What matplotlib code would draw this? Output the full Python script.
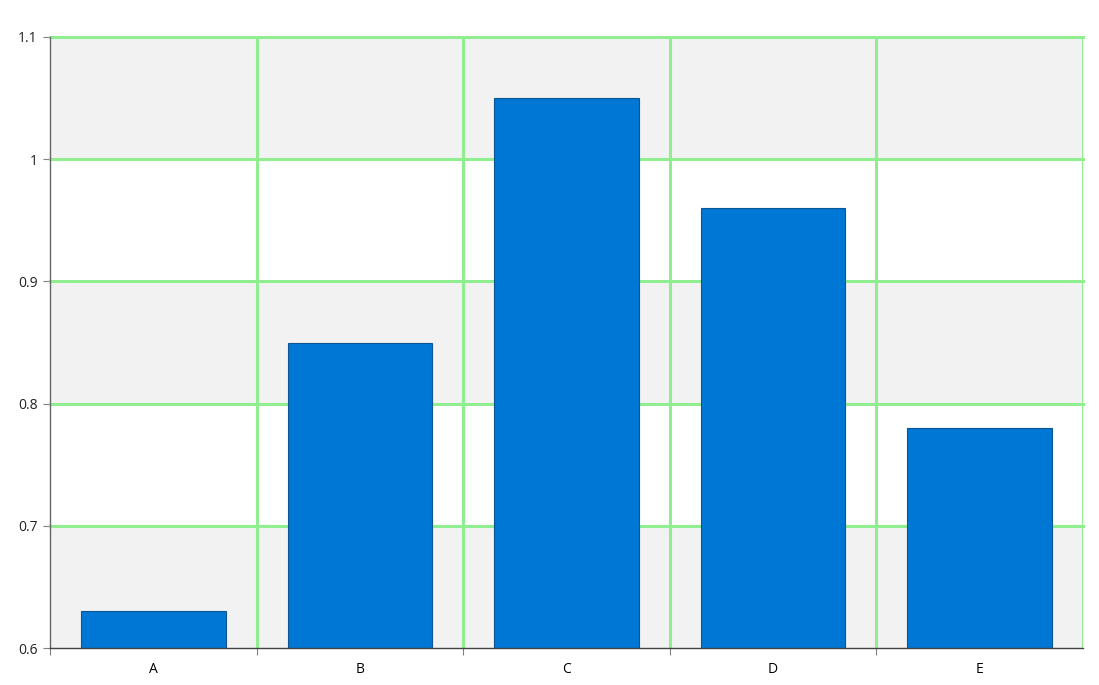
import matplotlib
matplotlib.use('Agg')
import matplotlib.pyplot as plt
import numpy as np

categories = ['A', 'B', 'C', 'D', 'E']
values = [0.63, 0.85, 1.05, 0.96, 0.78]
y_ticks = [0.6, 0.7, 0.8, 0.9, 1.0, 1.1]
y_tick_labels = ['0.6', '0.7', '0.8', '0.9', '1', '1.1']

plt.rcParams['font.family'] = ['Open Sans', 'DejaVu Sans']

fig = plt.figure(figsize=(10.99, 6.85), dpi=100)
ax = fig.add_axes([50 / 1099, (685 - 648) / 685, 1033 / 1099, 611 / 685])

x = np.arange(len(categories))

# alternating bands
for lo, hi in zip(y_ticks[:-1], y_ticks[1:]):
    if round(lo * 10) % 2 == 0:
        ax.axhspan(lo, hi, color='#f2f2f2', zorder=0, lw=0)

ax.bar(x, values, width=0.7, bottom=0, color='#0077d4', edgecolor='#0b5592',
       linewidth=0.8, zorder=3)

ax.set_xlim(-0.5, len(categories) - 0.5)
ax.set_ylim(0.6, 1.1)

# grid lines
for b in np.arange(0.5, len(categories), 1.0):
    ax.axvline(b, color='#90ee90', lw=2.2, zorder=2)
for t in y_ticks[1:]:
    ax.axhline(t, color='#90ee90', lw=2.2, zorder=2, clip_on=False)

ax.set_yticks(y_ticks)
ax.set_yticklabels(y_tick_labels)
ax.set_xticks(np.arange(-0.5, len(categories) - 0.5, 1.0))
ax.set_xticklabels([])
ax.set_xticks(x, minor=True)
ax.set_xticklabels(categories, minor=True)
ax.tick_params(axis='x', which='minor', length=0, pad=10)
ax.tick_params(axis='x', which='major', length=5, color='#808080')
ax.tick_params(axis='y', length=5, color='#808080', pad=4)
ax.tick_params(labelsize=10, labelcolor='#222222')

for side in ['top', 'right']:
    ax.spines[side].set_visible(False)
ax.spines['left'].set_color('#666666')
ax.spines['bottom'].set_color('#444444')
ax.spines['left'].set_linewidth(1)
ax.spines['bottom'].set_linewidth(1)
ax.spines['bottom'].set_zorder(4)

fig.savefig('out.png', dpi=100)
